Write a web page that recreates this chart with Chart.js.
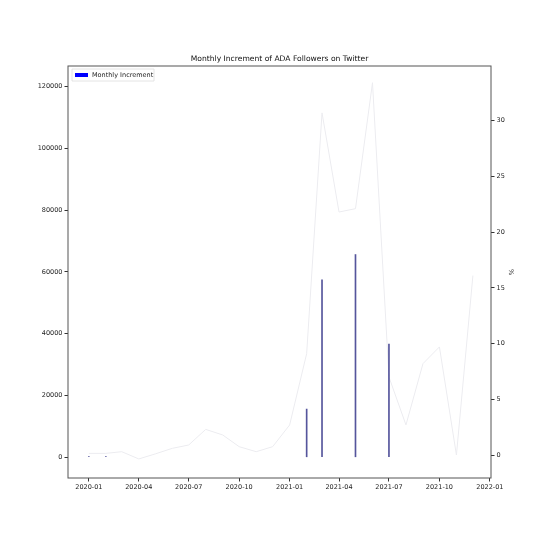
<!DOCTYPE html>
<html>
<head>
<meta charset="utf-8">
<script src="https://cdn.jsdelivr.net/npm/chart.js@4"></script>
<style>
  html, body { margin: 0; padding: 0; background: #fff; }
  #wrap { width: 546px; height: 546px; }
</style>
</head>
<body>
<div id="wrap"><canvas id="chart"></canvas></div>
<script>
// bars: monthly increment of followers
const barMonths = ["2020-01", "2020-02", "2021-02", "2021-03", "2021-05", "2021-07"];
const barValues = [250, 250, 15600, 57400, 65600, 36600];

// line: monthly growth in %
const lineMonths = [
  "2020-01", "2020-02", "2020-03", "2020-04", "2020-05", "2020-06",
  "2020-07", "2020-08", "2020-09", "2020-10", "2020-11", "2020-12",
  "2021-01", "2021-02", "2021-03", "2021-04", "2021-05", "2021-06",
  "2021-07", "2021-08", "2021-09", "2021-10", "2021-11", "2021-12"
];
const linePercent = [
  0.15, 0.15, 0.3, -0.35, 0.1, 0.6,
  0.9, 2.3, 1.8, 0.75, 0.3, 0.75,
  2.7, 9.1, 30.7, 21.8, 22.1, 33.4,
  7.0, 2.7, 8.2, 9.7, 0.0, 16.1
];

// tick labels
const xTickLabels = ["2020-01", "2020-04", "2020-07", "2020-10", "2021-01", "2021-04", "2021-07", "2021-10", "2022-01"];
const leftTicks = [0, 20000, 40000, 60000, 80000, 100000, 120000];
const rightTicks = [0, 5, 10, 15, 20, 25, 30];

const chartTitle = "Monthly Increment of ADA Followers on Twitter";

const origin = Date.UTC(2020, 0, 1);
function dayOf(m) {
  const [y, mo] = m.split("-").map(Number);
  return Math.round((Date.UTC(y, mo - 1, 1) - origin) / 86400000);
}
const labelByDay = {};
xTickLabels.forEach((m) => { labelByDay[dayOf(m)] = m; });

const tickFont = { family: "DejaVu Sans", size: 6.5 };
const tickGrid = {
  display: true, offset: false, drawOnChartArea: false,
  drawTicks: true, tickLength: 3.5, color: "#333",
};

// frame round the plot, title over the plot, legend inside top-left
const framePlugin = {
  id: "frame",
  afterDraw(chart) {
    const { ctx, chartArea: a } = chart;
    ctx.save();
    ctx.strokeStyle = "#555";
    ctx.lineWidth = 1;
    ctx.strokeRect(a.left, a.top, a.right - a.left, a.bottom - a.top);

    // title centred on the plot area
    ctx.fillStyle = "#111";
    ctx.font = "7.6px 'DejaVu Sans'";
    ctx.textAlign = "center";
    ctx.textBaseline = "middle";
    ctx.fillText(chartTitle, (a.left + a.right) / 2, a.top - 7);

    // legend
    const lx = a.left + 4, ly = a.top + 3;
    ctx.fillStyle = "rgba(255,255,255,0.8)";
    ctx.strokeStyle = "#ddd";
    ctx.lineWidth = 0.8;
    ctx.beginPath();
    ctx.rect(lx, ly, 82, 12);
    ctx.fill();
    ctx.stroke();
    ctx.fillStyle = "#0000ff";
    ctx.fillRect(lx + 3, ly + 4, 13, 4);
    ctx.fillStyle = "#222";
    ctx.font = "6.5px 'DejaVu Sans'";
    ctx.textAlign = "left";
    ctx.fillText("Monthly Increment", lx + 20, ly + 6.5);
    ctx.restore();
  },
};

new Chart(document.getElementById("chart"), {
  type: "bar",
  data: {
    datasets: [
      {
        type: "line",
        label: "%",
        data: lineMonths.map((m, i) => ({ x: dayOf(m), y: linePercent[i] })),
        yAxisID: "y1",
        borderColor: "#ececf0",
        borderWidth: 1,
        pointRadius: 0,
        tension: 0,
        fill: false,
        order: 2,
      },
      {
        type: "bar",
        label: "Monthly Increment",
        data: barMonths.map((m, i) => ({ x: dayOf(m), y: barValues[i] })),
        yAxisID: "y",
        backgroundColor: "#55559c",
        barThickness: 1,
        order: 1,
      },
    ],
  },
  options: {
    responsive: true,
    maintainAspectRatio: false,
    animation: false,
    layout: { padding: { left: 0, right: 31, top: 66, bottom: 0 } },
    plugins: {
      legend: { display: false },
      tooltip: { enabled: false },
      title: { display: false },
    },
    scales: {
      x: {
        type: "linear",
        offset: false,
        min: -38,
        max: 733,
        grid: tickGrid,
        border: { display: false },
        ticks: {
          color: "#222",
          font: tickFont,
          maxRotation: 0,
          padding: 2,
          callback: (v) => labelByDay[v] ?? "",
        },
        afterBuildTicks: (s) => { s.ticks = xTickLabels.map((m) => ({ value: dayOf(m) })); },
        afterFit: (s) => { s.height = 68; },
      },
      y: {
        position: "left",
        min: -6700,
        max: 126600,
        grid: tickGrid,
        border: { display: false },
        ticks: { color: "#222", font: tickFont, padding: 2, callback: (v) => String(v) },
        afterBuildTicks: (s) => { s.ticks = leftTicks.map((v) => ({ value: v })); },
        afterFit: (s) => { s.width = 68; },
      },
      y1: {
        position: "right",
        min: -2.06,
        max: 34.9,
        grid: tickGrid,
        border: { display: false },
        ticks: { color: "#222", font: tickFont, padding: 2, callback: (v) => String(v) },
        title: { display: true, text: "%", color: "#222", font: tickFont, padding: 0 },
        afterBuildTicks: (s) => { s.ticks = rightTicks.map((v) => ({ value: v })); },
        afterFit: (s) => { s.width = 24; },
      },
    },
  },
  plugins: [framePlugin],
});
</script>
</body>
</html>
